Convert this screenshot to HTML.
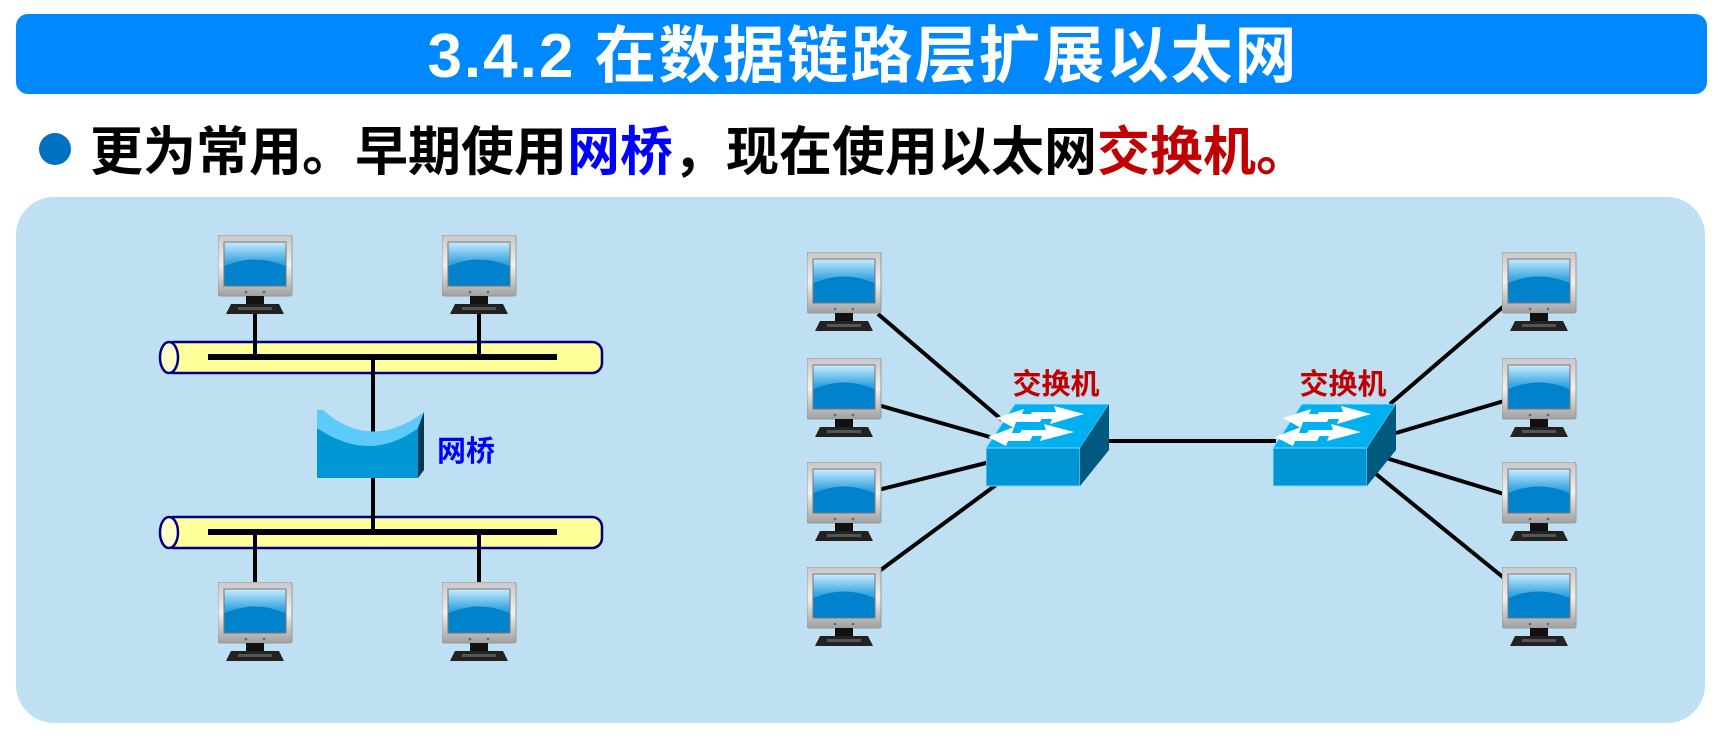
<!DOCTYPE html>
<html><head><meta charset="utf-8"><style>
html,body{margin:0;padding:0;background:#fff;width:1719px;height:753px;overflow:hidden}
svg{display:block}
</style></head><body>
<svg width="1719" height="753" viewBox="0 0 1719 753" xmlns="http://www.w3.org/2000/svg">
<defs>
<linearGradient id="bz" x1="0" y1="0" x2="0" y2="1"><stop offset="0" stop-color="#c8c8c8"/><stop offset="0.5" stop-color="#f0f0f0"/><stop offset="1" stop-color="#a0a0a0"/></linearGradient>
<linearGradient id="sc" x1="0" y1="0" x2="0" y2="1"><stop offset="0" stop-color="#c8ecff"/><stop offset="0.45" stop-color="#3aa6e0"/><stop offset="1" stop-color="#0082c8"/></linearGradient>
<symbol id="mon" viewBox="0 0 76 82" width="76" height="82">
<rect x="0" y="0" width="74" height="61" rx="2" fill="url(#bz)" stroke="#9a9a9a" stroke-width="1"/>
<rect x="6" y="7" width="62" height="44" fill="url(#sc)" stroke="#777" stroke-width="1"/>
<path d="M6.5,31 Q37,18 67.5,31 L67.5,50.5 L6.5,50.5Z" fill="#0082cc"/>
<circle cx="28" cy="57" r="1.3" fill="#666"/><circle cx="46" cy="57" r="1.3" fill="#666"/>
<rect x="28" y="61" width="18" height="8" fill="#111"/>
<path d="M13,69 L61,69 L66,79 L8,79Z" fill="#222"/>
<rect x="20" y="72" width="34" height="3" fill="#555"/>
</symbol>
<symbol id="sw" viewBox="0 0 124 84" width="124" height="84">
<path d="M29,0 L123,0 L94,44 L0,44Z" fill="#00b0f0" stroke="#7fd6ff" stroke-width="1"/>
<rect x="0" y="44" width="94" height="38" fill="#0096d4" stroke="#7fd6ff" stroke-width="1"/>
<path d="M94,44 L123,0 L123,46 L94,82Z" fill="#005a80"/>
<path d="M46,8 L70,8 L68,2 L98,10 L64,20 L66,15 L42,15Z" fill="#fff"/>
<path d="M36,26 L60,26 L58,20 L88,28 L54,37 L56,32 L32,32Z" fill="#fff"/>
<path d="M58,10 L36,10 L38,5 L10,14 L28,24 L30,18 L54,18Z" fill="#fff"/>
<path d="M48,29 L26,29 L28,23 L2,33 L20,42 L22,37 L44,37Z" fill="#fff"/>
</symbol>
</defs>

<!-- header -->
<rect x="16" y="14" width="1691" height="80" rx="12" fill="#0088ff"/>
<text x="863" y="77" text-anchor="middle" font-family="'Liberation Sans','Noto Sans CJK SC',sans-serif" font-weight="bold" font-size="62" letter-spacing="2" fill="#fff">3.4.2  在数据链路层扩展以太网</text>

<!-- bullet -->
<circle cx="55" cy="149" r="16" fill="#0070c0"/>
<text x="90" y="170" font-family="'Liberation Sans','Noto Sans CJK SC',sans-serif" font-weight="bold" font-size="53" fill="#000">更为常用。早期使用<tspan fill="#0000ff">网桥</tspan>，现在使用以太网<tspan fill="#c00000">交换机。</tspan></text>

<!-- panel -->
<rect x="16" y="197" width="1689" height="526" rx="38" fill="#bfdff2"/>

<!-- left: cables -->
<rect x="164" y="342" width="438" height="31" rx="10" fill="#ffff99" stroke="#000080" stroke-width="2.5"/>
<ellipse cx="169" cy="357.5" rx="9" ry="15.5" fill="#ffffcc" stroke="#000080" stroke-width="2.5"/>
<rect x="164" y="517" width="438" height="31" rx="10" fill="#ffff99" stroke="#000080" stroke-width="2.5"/>
<ellipse cx="169" cy="532.5" rx="9" ry="15.5" fill="#ffffcc" stroke="#000080" stroke-width="2.5"/>
<g stroke="#000" stroke-width="6">
<line x1="208" y1="357" x2="557" y2="357"/>
<line x1="208" y1="532" x2="557" y2="532"/>
</g>
<g stroke="#000" stroke-width="4">
<line x1="255" y1="312" x2="255" y2="357"/>
<line x1="479" y1="312" x2="479" y2="357"/>
<line x1="373" y1="357" x2="373" y2="532"/>
<line x1="255" y1="532" x2="255" y2="582"/>
<line x1="479" y1="532" x2="479" y2="582"/>
</g>
<!-- bridge -->
<path d="M317,428 Q370,462 418,428 L418,478 L317,478Z" fill="#0098d4"/>
<path d="M317,410 L317,428 Q370,464 418,428 L424,412 Q370,452 323,410Z" fill="#5ccbfa"/>
<path d="M418,428 L424,412 L424,470 L418,478Z" fill="#003a55"/>
<text x="437" y="461" font-family="'Liberation Sans','Noto Sans CJK SC',sans-serif" font-weight="bold" font-size="29" fill="#0000ff">网桥</text>

<use href="#mon" x="218" y="235"/>
<use href="#mon" x="442" y="235"/>
<use href="#mon" x="218" y="582"/>
<use href="#mon" x="442" y="582"/>

<!-- right: links -->
<g stroke="#000" stroke-width="4">
<line x1="878" y1="314" x2="1002" y2="420"/>
<line x1="878" y1="405" x2="990" y2="437"/>
<line x1="878" y1="490" x2="990" y2="462"/>
<line x1="878" y1="572" x2="1000" y2="482"/>
<line x1="1105" y1="441" x2="1276" y2="441"/>
<line x1="1390" y1="404" x2="1504" y2="306"/>
<line x1="1396" y1="433" x2="1504" y2="401"/>
<line x1="1386" y1="458" x2="1504" y2="494"/>
<line x1="1376" y1="474" x2="1504" y2="578"/>
</g>
<use href="#sw" x="986" y="404"/>
<use href="#sw" x="1273" y="404"/>
<text x="1056" y="394" text-anchor="middle" font-family="'Liberation Sans','Noto Sans CJK SC',sans-serif" font-weight="bold" font-size="29" fill="#c00000">交换机</text>
<text x="1343" y="394" text-anchor="middle" font-family="'Liberation Sans','Noto Sans CJK SC',sans-serif" font-weight="bold" font-size="29" fill="#c00000">交换机</text>

<use href="#mon" x="807" y="252"/>
<use href="#mon" x="807" y="358"/>
<use href="#mon" x="807" y="462"/>
<use href="#mon" x="807" y="567"/>
<use href="#mon" x="1502" y="252"/>
<use href="#mon" x="1502" y="358"/>
<use href="#mon" x="1502" y="462"/>
<use href="#mon" x="1502" y="567"/>
</svg>
</body></html>
